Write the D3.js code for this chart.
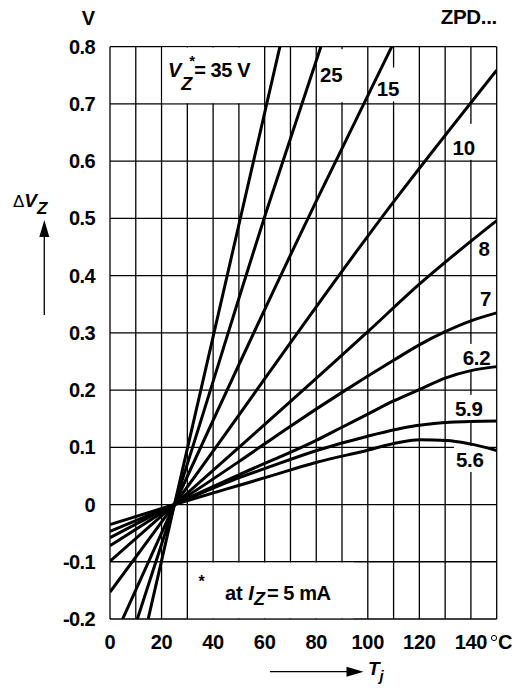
<!DOCTYPE html>
<html>
<head>
<meta charset="utf-8">
<script src="https://cdn.jsdelivr.net/npm/d3@7/dist/d3.min.js"></script>
<style>
  html, body { margin: 0; padding: 0; background: #fff; }
  svg { display: block; }
  text { font-family: "Liberation Sans", Arial, Helvetica, sans-serif; font-weight: bold; fill: #000; }
</style>
</head>
<body>
<svg id="chart" width="525" height="691"></svg>
<script>
// ---------- data ----------
const xTickValues = [0, 20, 40, 60, 80, 100, 120, 140];
const yTickValues = [-0.2, -0.1, 0, 0.1, 0.2, 0.3, 0.4, 0.5, 0.6, 0.7, 0.8];
const yTickLabels = ["-0.2", "-0.1", "0", "0.1", "0.2", "0.3", "0.4", "0.5", "0.6", "0.7", "0.8"];
const seriesNames = ["35", "25", "15", "10", "8", "7", "6.2", "5.9", "5.6"];

// [Tj in °C, ΔVZ in V]
const v35 = [[14.8, -0.2], [25, 0], [65.9, 0.8]];
const v25 = [[10.6, -0.2], [25, 0], [62.1, 0.532], [81.8, 0.8]];
const v15 = [[4.9, -0.2], [25, 0], [80.2, 0.532], [109.3, 0.8]];
const v10 = [[0, -0.153], [25, 0], [110.5, 0.532], [150, 0.759]];
const v8  = [[0, -0.099], [25, 0], [100, 0.302], [120, 0.385], [150, 0.496]];
const v7  = [[0, -0.072], [25, 0], [50, 0.075], [70, 0.137], [90, 0.196], [110, 0.252], [120, 0.279], [130, 0.302], [140, 0.321], [150, 0.335]];
const v62 = [[0, -0.058], [25, 0], [50, 0.052], [80, 0.112], [90, 0.135], [100, 0.158], [110, 0.181], [120, 0.201], [130, 0.221], [140, 0.234], [150, 0.241]];
const v59 = [[0, -0.047], [25, 0], [47.2, 0.042], [60.8, 0.064], [80.2, 0.0945], [99.6, 0.119], [119, 0.138], [131.9, 0.144], [150, 0.146]];
const v56 = [[0, -0.035], [25, 0], [48.5, 0.0315], [60.8, 0.0478], [80.2, 0.074], [99.6, 0.0945], [112.5, 0.109], [120.2, 0.113], [130.6, 0.112], [139.6, 0.106], [150, 0.0945]];
const seriesData = [v35, v25, v15, v10, v8, v7, v62, v59, v56];

// curve label anchors [Tj, ΔVZ] (text start, baseline)
const labelPos = [null, [81.5, 0.738], [103.5, 0.713], [132.9, 0.611], [142.9, 0.435], [143.5, 0.347], [136.8, 0.244], [133.8, 0.155], [134.2, 0.0656]];

// ---------- layout ----------
const svg = d3.select("#chart");
const x = d3.scaleLinear().domain([0, 150]).range([110, 496.7]);
const y = d3.scaleLinear().domain([-0.2, 0.8]).range([619, 46.7]);

const gGrid = svg.append("g");
const gBg = svg.append("g");
const gCurves = svg.append("g");
const gText = svg.append("g");

// grid
const vGrid = d3.range(0, 151, 10);
gGrid.selectAll("line.v").data(vGrid).join("line")
  .attr("x1", d => x(d)).attr("x2", d => x(d))
  .attr("y1", y(0.8)).attr("y2", y(-0.2))
  .attr("stroke", "#000").attr("stroke-width", 1.3);
gGrid.selectAll("line.h").data(yTickValues).join("line")
  .attr("x1", x(0)).attr("x2", x(150))
  .attr("y1", d => y(d)).attr("y2", d => y(d))
  .attr("stroke", "#000").attr("stroke-width", 1.3);

// white boxes for the annotations
gBg.append("rect").attr("x", x(20) + 0.8).attr("y", y(0.8) + 0.8)
  .attr("width", x(60) - x(20) - 1.6).attr("height", y(0.7) - y(0.8) - 1.6).attr("fill", "#fff");
gBg.append("rect").attr("x", x(30) + 0.8).attr("y", y(-0.1) + 0.8)
  .attr("width", x(94.5) - x(30) - 0.8).attr("height", y(-0.2) - y(-0.1) - 1.6).attr("fill", "#fff");

// curves
svg.append("clipPath").attr("id", "plotclip").append("rect")
  .attr("x", x(0)).attr("y", y(0.8)).attr("width", x(150) - x(0)).attr("height", y(-0.2) - y(0.8));
const line = d3.line().x(d => x(d[0])).y(d => y(d[1])).curve(d3.curveMonotoneX);
gCurves.attr("clip-path", "url(#plotclip)");
gCurves.selectAll("path").data(seriesData).join("path")
  .attr("d", line).attr("fill", "none").attr("stroke", "#000").attr("stroke-width", 3);

// curve labels with white backgrounds
const padTop = [0, 18, 14, 16, 6, 6, 6, 6, 6];
const padBot = [0, 20, 5, 5, 5, 5, 5, 5, 5];
seriesNames.forEach((name, i) => {
  if (!labelPos[i]) return;
  const t = gText.append("text").attr("x", x(labelPos[i][0])).attr("y", y(labelPos[i][1]))
    .attr("font-size", 20.5).attr("letter-spacing", -0.3).text(name);
  const b = t.node().getBBox();
  gBg.append("rect").attr("x", b.x - 2).attr("y", b.y + 4 - padTop[i])
    .attr("width", b.width + 4).attr("height", b.height - 8 + padTop[i] + padBot[i]).attr("fill", "#fff");
});

// y tick labels
gText.selectAll("text.yt").data(yTickValues).join("text")
  .attr("x", 95).attr("y", d => y(d) + 7).attr("text-anchor", "end")
  .attr("font-size", 20).attr("letter-spacing", -0.6)
  .text((d, i) => yTickLabels[i]);
// x tick labels
gText.selectAll("text.xt").data(xTickValues).join("text")
  .attr("x", d => x(d)).attr("y", 649).attr("text-anchor", "middle")
  .attr("font-size", 20).attr("letter-spacing", -0.3)
  .text(d => d);
// degree C
gText.append("circle").attr("cx", 494).attr("cy", 638).attr("r", 2.6)
  .attr("fill", "none").attr("stroke", "#000").attr("stroke-width", 1);
gText.append("text").attr("x", 498).attr("y", 649).attr("font-size", 20).text("C");

// unit V and ZPD...
gText.append("text").attr("x", 95).attr("y", 25).attr("text-anchor", "end").attr("font-size", 20).text("V");
gText.append("text").attr("x", 497).attr("y", 24).attr("text-anchor", "end").attr("font-size", 20.5).attr("letter-spacing", -0.3).text("ZPD...");

// VZ* = 35 V  (single text with tspans)
const t35 = gText.append("text").attr("x", 168).attr("y", 77).attr("font-size", 20);
t35.append("tspan").attr("font-style", "italic").text("V");
t35.append("tspan").attr("font-style", "italic").attr("font-size", 18).attr("dx", 0).attr("dy", 13).text("Z");
t35.append("tspan").attr("font-size", 15).attr("dx", -3).attr("dy", -24).text("*");
t35.append("tspan").attr("dx", -1).attr("dy", 11).attr("letter-spacing", -0.4).text("= 35 V");

// * at IZ = 5 mA
gText.append("text").attr("x", 198.5).attr("y", 587).attr("font-size", 16).text("*");
const tIz = gText.append("text").attr("x", 225).attr("y", 600).attr("font-size", 20);
tIz.append("tspan").text("at ");
tIz.append("tspan").attr("font-style", "italic").text("I");
tIz.append("tspan").attr("font-style", "italic").attr("font-size", 18).attr("dx", 0).attr("dy", 5).text("Z");
tIz.append("tspan").attr("dx", 2).attr("dy", -5).attr("letter-spacing", -0.4).text("= 5 mA");

// ΔVZ axis title with arrow
const tdv = gText.append("text").attr("x", 13).attr("y", 207).attr("font-size", 19);
tdv.append("tspan").attr("font-weight", "normal").attr("font-size", 17).text("Δ");
tdv.append("tspan").attr("font-style", "italic").text("V");
tdv.append("tspan").attr("font-style", "italic").attr("font-size", 17).attr("dx", 0).attr("dy", 7).text("Z");
gText.append("line").attr("x1", 44.3).attr("x2", 44.3).attr("y1", 315).attr("y2", 234)
  .attr("stroke", "#000").attr("stroke-width", 1.3);
gText.append("path").attr("d", "M44.3,220 L39.3,237 L49.3,237 Z").attr("fill", "#000");

// Tj axis title with arrow
gText.append("line").attr("x1", 270).attr("x2", 350).attr("y1", 671.7).attr("y2", 671.7)
  .attr("stroke", "#000").attr("stroke-width", 1.3);
gText.append("path").attr("d", "M363.5,671.7 L346.5,666.7 L346.5,676.7 Z").attr("fill", "#000");
const ttj = gText.append("text").attr("x", 368).attr("y", 675).attr("font-size", 19).attr("font-style", "italic");
ttj.append("tspan").text("T");
ttj.append("tspan").attr("font-size", 15).attr("dx", 0).attr("dy", 6).text("j");
</script>
</body>
</html>
